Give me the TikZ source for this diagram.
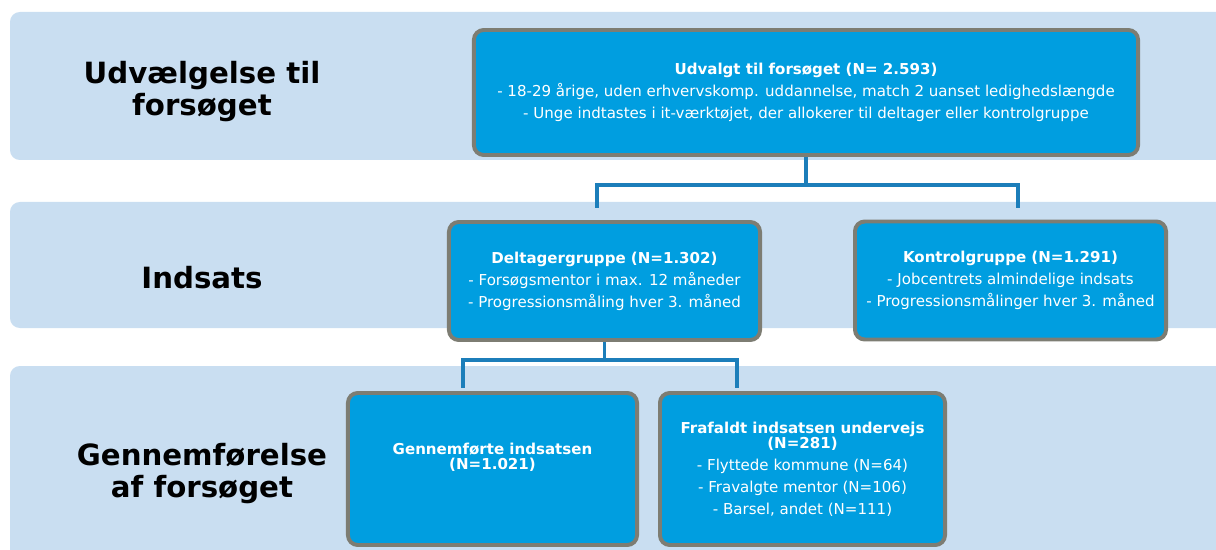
\documentclass[tikz,border=0pt]{standalone}
\usepackage{fontspec}
\setmainfont{DejaVu Sans}
\newfontfamily\boxfont{DejaVu Sans}
\usetikzlibrary{positioning}
\definecolor{bandblue}{RGB}{201,222,241}
\definecolor{boxblue}{RGB}{0,158,224}
\definecolor{boxgray}{RGB}{125,125,115}
\definecolor{linkblue}{RGB}{28,126,186}
\tikzstyle{band} = [fill=bandblue, rounded corners=7pt]
\tikzstyle{stage} = [font=\bfseries\fontsize{20.8}{22.8}\selectfont, align=center, text=black]
\tikzstyle{box} = [rectangle, draw=boxgray, line width=2.8pt, fill=boxblue, rounded corners=7pt,
    text=white, align=center, font=\boxfont\fontsize{10.7}{15.6}\selectfont]
\tikzstyle{link} = [draw=linkblue, line width=2.8pt]

\begin{document}
\begin{tikzpicture}[x=0.025cm, y=-0.025cm]
    \useasboundingbox (0,0) rectangle (1216,550);
    % Bands
    \fill[band] (10,12) rectangle (1240,160);
    \fill[band] (10,202) rectangle (1240,328);
    \fill[band] (10,366) rectangle (1240,580);
    % Stage labels
    \node [stage] (sel) at (202,92) {Udvælgelse til\\forsøget};
    \node [stage] (ind) at (202,278) {Indsats};
    \node [stage] (gen) at (202,474) {Gennemførelse\\af forsøget};
    % Place nodes
    \node [box, minimum width=16.6cm, minimum height=3.125cm] (top) at (806,92.5)
        {\textbf{Udvalgt til forsøget (N= 2.593)}\\
         - 18-29 årige, uden erhvervskomp. uddannelse, match 2 uanset ledighedslængde\\
         - Unge indtastes i it-værktøjet, der allokerer til deltager eller kontrolgruppe};
    \node [box, minimum width=7.775cm, minimum height=2.95cm] (delt) at (604.5,281)
        {\textbf{Deltagergruppe (N=1.302)}\\
         - Forsøgsmentor i max. 12 måneder\\
         - Progressionsmåling hver 3. måned};
    \node [box, minimum width=7.775cm, minimum height=2.95cm] (kont) at (1010.5,280.5)
        {\textbf{Kontrolgruppe (N=1.291)}\\
         - Jobcentrets almindelige indsats\\
         - Progressionsmålinger hver 3. måned};
    \node [box, minimum width=7.225cm, minimum height=3.8cm] (done) at (492.5,469)
        {\textbf{Gennemførte indsatsen}\\[-4.9pt]
         \textbf{(N=1.021)}\\[2pt]\mbox{}};
    \node [box, minimum width=7.125cm, minimum height=3.8cm] (drop) at (802.5,469)
        {\textbf{Frafaldt indsatsen undervejs}\\[-4.9pt]
         \textbf{(N=281)}\\
         - Flyttede kommune (N=64)\\
         - Fravalgte mentor (N=106)\\
         - Barsel, andet (N=111)};
    % Joints
    \coordinate (dl) at (597,208);
    \coordinate (kr) at (1018,208);
    \coordinate (gl) at (463,388);
    \coordinate (fr) at (737,388);
    % Draw edges
    \path [link] (top.south) -- ++(0,28) -| (dl);
    \path [link] (top.south) ++(0,28) -| (kr);
    \path [link] (delt.south) -- ++(0,18) -| (gl);
    \path [link] (delt.south) ++(0,18) -| (fr);
\end{tikzpicture}
\end{document}
